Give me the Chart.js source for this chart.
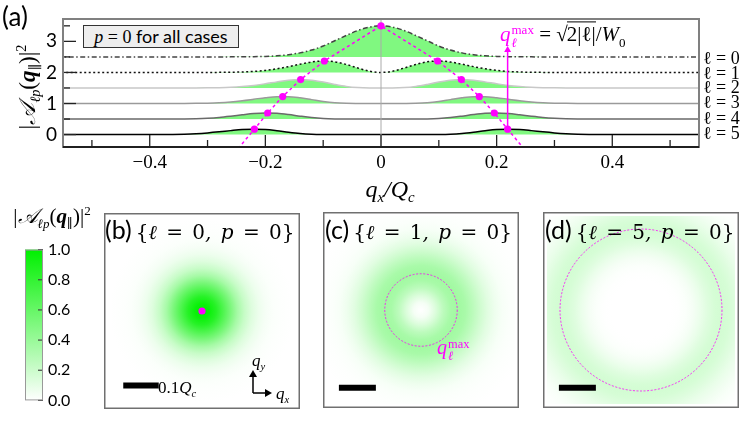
<!DOCTYPE html>
<html>
<head>
<meta charset="utf-8">
<script src="https://cdn.jsdelivr.net/npm/chart.js@4.4.1/dist/chart.umd.min.js"></script>
<style>
  body { margin: 0; background: #fff; }
  #fig { position: relative; width: 747px; height: 421px; overflow: hidden;
         font-family: Lato, "Open Sans", sans-serif; color: #000; }
  canvas { position: absolute; }
  .t { position: absolute; white-space: nowrap; line-height: 1; }
  .m { font-family: "DejaVu Serif", "Liberation Serif", serif; font-style: italic; }
  .r { font-family: "DejaVu Serif", "Liberation Serif", serif; font-style: normal; }
  .lm { font-family: "Liberation Serif", "DejaVu Serif", serif; font-style: italic; }
  .lr { font-family: "Liberation Serif", "DejaVu Serif", serif; font-style: normal; }
  sub, sup { font-size: 62%; line-height: 0; }
  .ss { display: inline-block; vertical-align: -0.45em; line-height: 0.95; font-size: 62%; margin-left: 1px; }
  .ss span { display: block; }
  .mag { color: #ff00ff; }
  .ttl { word-spacing: 3px; }
</style>
</head>
<body>
<div id="fig">
  <canvas id="profiles" width="747" height="205" style="left:0px;top:0px"></canvas>
  <canvas id="cbar" width="90" height="180" style="left:0px;top:235px"></canvas>
  <canvas id="mapB" width="196" height="196" style="left:104px;top:213px"></canvas>
  <canvas id="mapC" width="196" height="196" style="left:323px;top:212px"></canvas>
  <canvas id="mapD" width="196" height="196" style="left:543px;top:212px"></canvas>

  <div class="t" style="left:2px;top:3px;font-size:26px">(a)</div>
  <div class="t lm" style="left:27px;top:87px;font-size:23px;transform:translate(-50%,-50%) rotate(-90deg)"><span class="lr">|</span>𝒜<sub>ℓ<i>p</i></sub><span class="lr">(</span><b>q</b><sub class="lr">∥</sub><span class="lr">)|</span><sup class="lr">2</sup></div>
  <div class="t" style="left:390px;top:188px;font-size:24px;transform:translate(-50%,-50%)"><span class="lm">q<sub>x</sub>/Q<sub>c</sub></span></div>

  <div class="t" style="left:83px;top:25px;width:154px;height:21px;background:#eeeeee;border:1.5px solid #333;font-size:18px;line-height:21px;text-align:center"><span class="lm">p</span><span class="lr"> = 0 </span>for all cases</div>

  <div class="t" style="left:500px;top:36px;font-size:21px;transform:translateY(-50%)"><span class="lm mag">q<span class="ss"><span class="lr">max</span><span>ℓ</span></span></span><span class="lr"> = √<span style="border-top:1px solid #000;padding-top:0px;margin-left:-1px">2|ℓ|</span>/</span><span class="lm">W</span><sub class="lr">0</sub></div>

  <div class="t lr" style="left:703px;top:58px;font-size:18px;transform:translateY(-50%)">ℓ = 0</div>
  <div class="t lr" style="left:703px;top:72.5px;font-size:18px;transform:translateY(-50%)">ℓ = 1</div>
  <div class="t lr" style="left:703px;top:87px;font-size:18px;transform:translateY(-50%)">ℓ = 2</div>
  <div class="t lr" style="left:703px;top:102px;font-size:18px;transform:translateY(-50%)">ℓ = 3</div>
  <div class="t lr" style="left:703px;top:117.5px;font-size:18px;transform:translateY(-50%)">ℓ = 4</div>
  <div class="t lr" style="left:703px;top:133px;font-size:18px;transform:translateY(-50%)">ℓ = 5</div>

  <div class="t lm" style="left:52px;top:216px;font-size:21px;transform:translate(-50%,-50%)"><span class="lr">|</span>𝒜<sub>ℓ<i>p</i></sub><span class="lr">(</span><b>q</b><sub class="lr">∥</sub><span class="lr">)|</span><sup class="lr">2</sup></div>

  <div class="t" style="left:105px;top:229px;transform:translateY(-50%)"><span style="font-size:25px">(b)</span> <span class="m ttl" style="font-size:20px"><span class="r">{</span>ℓ <span class="r">=</span> <span class="r">0</span>, p <span class="r">=</span> <span class="r">0}</span></span></div>
  <div class="t" style="left:325px;top:229px;transform:translateY(-50%)"><span style="font-size:25px">(c)</span> <span class="m ttl" style="font-size:20px"><span class="r">{</span>ℓ <span class="r">=</span> <span class="r">1</span>, p <span class="r">=</span> <span class="r">0}</span></span></div>
  <div class="t" style="left:545px;top:229px;transform:translateY(-50%)"><span style="font-size:25px">(d)</span> <span class="m ttl" style="font-size:20px"><span class="r">{</span>ℓ <span class="r">=</span> <span class="r">5</span>, p <span class="r">=</span> <span class="r">0}</span></span></div>

  <div class="t" style="left:158px;top:387px;font-size:17px;transform:translateY(-50%)"><span class="lr">0.1</span><span class="lm">Q<sub>c</sub></span></div>
  <div class="t lm" style="left:252px;top:360px;font-size:17px;transform:translateY(-50%)">q<sub>y</sub></div>
  <div class="t lm" style="left:276px;top:393px;font-size:17px;transform:translateY(-50%)">q<sub>x</sub></div>
  <div class="t lm mag" style="left:437px;top:350px;font-size:20px;transform:translateY(-50%)">q<span class="ss"><span class="lr">max</span><span>ℓ</span></span></div>
</div>

<script>
// radial momentum grid |q| / Qc (positive half); the profiles are symmetric in q_x
var qHalf = [0, 0.02, 0.04, 0.06, 0.08, 0.10, 0.12, 0.14, 0.16, 0.18, 0.20,
             0.22, 0.24, 0.26, 0.28, 0.30, 0.32, 0.34, 0.36, 0.38, 0.40, 0.56];

// |A_lp|^2, one array per l (p = 0)
var prof0 = [1.00, 0.96, 0.85, 0.69, 0.52, 0.35, 0.22, 0.13, 0.07, 0.035, 0.016,
             0.007, 0.003, 0.001, 0, 0, 0, 0, 0, 0, 0, 0];
var prof1 = [0, 0.040, 0.141, 0.257, 0.342, 0.368, 0.336, 0.266, 0.187, 0.117, 0.066,
             0.033, 0.015, 0.006, 0.002, 0.001, 0, 0, 0, 0, 0, 0];
var prof2 = [0, 0.001, 0.012, 0.048, 0.113, 0.191, 0.250, 0.271, 0.248, 0.196, 0.136,
             0.083, 0.046, 0.022, 0.010, 0.004, 0.001, 0, 0, 0, 0, 0];
var prof3 = [0, 0, 0.001, 0.006, 0.025, 0.066, 0.125, 0.183, 0.219, 0.220, 0.188,
             0.139, 0.091, 0.052, 0.026, 0.012, 0.005, 0.002, 0.001, 0, 0, 0];
var prof4 = [0, 0, 0, 0.001, 0.004, 0.017, 0.047, 0.093, 0.145, 0.184, 0.195,
             0.175, 0.135, 0.091, 0.053, 0.028, 0.013, 0.005, 0.002, 0.001, 0, 0];
var prof5 = [0, 0, 0, 0, 0.001, 0.004, 0.014, 0.038, 0.077, 0.124, 0.162,
             0.175, 0.162, 0.127, 0.087, 0.053, 0.028, 0.013, 0.005, 0.002, 0.001, 0];
var profiles = [prof0, prof1, prof2, prof3, prof4, prof5];

// vertical offset of each curve in panel (a)
var baseOffset = [2.5, 2, 1.5, 1, 0.5, 0];

// q_l^max and the peak value for l = 0..5
var peakQ = [0, 0.098, 0.139, 0.170, 0.196, 0.219];
var peakVal = [1, 0.368, 0.271, 0.224, 0.195, 0.175];

// dashed guide leaves the frame here; arrow tip height
var guideEnd = {q: 0.247, y: -0.45};
var arrowTop = 2.72;

var xMinorTicks = [-0.5, -0.3, -0.1, 0.1, 0.3, 0.5];
var yMinorTicks = [0.5, 1.5, 2.5, 3.5];

// scale bar in the maps: 0.1 Qc
var scaleBar = [-0.222, -0.122];
var scaleBarY = -0.21;

var lineColor = ['#444444', '#111111', '#c8c8c8', '#9a9a9a', '#6a6a6a', '#000000'];
var lineDash = [[5, 2.5, 1.5, 2.5], [2, 2.5], [], [], [], []];
var FILL = 'rgb(128,248,128)';
var MAGENTA = '#ff00ff';

function cmap(v) {
  // white -> green
  var r = Math.round(255 - 255 * v), g = Math.round(255 - 15 * v);
  return 'rgb(' + r + ',' + g + ',' + r + ')';
}

function profilePoints(vals, base) {
  var pts = [];
  for (var i = qHalf.length - 1; i > 0; i--) pts.push({x: -qHalf[i], y: base + vals[i]});
  for (var j = 0; j < qHalf.length; j++) pts.push({x: qHalf[j], y: base + vals[j]});
  return pts;
}

// ---------- panel (a) ----------
var datasets = [];
profiles.forEach(function(vals, l) {
  datasets.push({
    data: profilePoints(vals, baseOffset[l]),
    borderColor: lineColor[l],
    borderDash: lineDash[l],
    borderWidth: 1.5,
    pointRadius: 0,
    cubicInterpolationMode: 'monotone',
    fill: {value: baseOffset[l]},
    backgroundColor: FILL,
    order: 3
  });
});

// thin line at q_x = 0
datasets.push({
  data: [{x: 0, y: -1}, {x: 0, y: 5}],
  borderColor: '#aaaaaa', borderWidth: 1, pointRadius: 0, fill: false, order: 2
});

var guide = [{x: -guideEnd.q, y: guideEnd.y}];
var dots = [];
for (var l = 5; l >= 1; l--) guide.push({x: -peakQ[l], y: baseOffset[l] + peakVal[l]});
guide.push({x: 0, y: baseOffset[0] + peakVal[0]});
for (var k = 1; k <= 5; k++) guide.push({x: peakQ[k], y: baseOffset[k] + peakVal[k]});
guide.push({x: guideEnd.q, y: guideEnd.y});
for (var m = 0; m <= 5; m++) {
  dots.push({x: peakQ[m], y: baseOffset[m] + peakVal[m]});
  if (m > 0) dots.push({x: -peakQ[m], y: baseOffset[m] + peakVal[m]});
}

datasets.push({
  data: guide, borderColor: MAGENTA, borderWidth: 1.5, borderDash: [3, 3],
  pointRadius: 0, fill: false, tension: 0, order: 1
});
datasets.push({
  data: [{x: peakQ[5], y: baseOffset[5] + peakVal[5]}, {x: peakQ[5], y: arrowTop}],
  borderColor: MAGENTA, borderWidth: 1.5, fill: false,
  pointRadius: [0, 4], pointStyle: 'triangle', pointBackgroundColor: MAGENTA, pointBorderWidth: 0,
  order: 1
});
datasets.push({
  data: dots, showLine: false, pointRadius: 3.6, pointBackgroundColor: MAGENTA,
  pointBorderWidth: 0, fill: false, order: 0
});

var frameA = {
  id: 'frameA',
  afterDraw: function(chart) {
    var ctx = chart.ctx, a = chart.chartArea, x = chart.scales.x, y = chart.scales.y;
    ctx.save();
    ctx.strokeStyle = '#222';
    ctx.lineWidth = 1.3;
    function tick(x0, y0, dx, dy) {
      ctx.beginPath(); ctx.moveTo(x0, y0); ctx.lineTo(x0 + dx, y0 + dy); ctx.stroke();
    }
    x.ticks.forEach(function(t) { tick(x.getPixelForValue(t.value), a.bottom, 0, -12); });
    xMinorTicks.forEach(function(v) { tick(x.getPixelForValue(v), a.bottom, 0, -7); });
    y.ticks.forEach(function(t) { tick(a.left, y.getPixelForValue(t.value), 13, 0); });
    yMinorTicks.forEach(function(v) { tick(a.left, y.getPixelForValue(v), 7, 0); });
    ctx.strokeStyle = '#808080';
    ctx.lineWidth = 2;
    ctx.strokeRect(a.left, a.top, a.right - a.left, a.bottom - a.top);
    ctx.strokeStyle = '#000';
    ctx.lineWidth = 1.6;
    ctx.beginPath(); ctx.moveTo(a.left, a.bottom); ctx.lineTo(a.right, a.bottom); ctx.stroke();
    ctx.restore();
  }
};

new Chart(document.getElementById('profiles'), {
  type: 'line',
  data: {datasets: datasets},
  options: {
    responsive: false,
    animation: false,
    events: [],
    layout: {padding: {left: 0, right: 48, top: 19, bottom: 0}},
    plugins: {legend: {display: false}, tooltip: {enabled: false}},
    scales: {
      x: {
        type: 'linear', min: -0.55, max: 0.55,
        afterFit: function(s) { s.height = 58; },
        grid: {display: false, drawTicks: false},
        border: {display: false},
        ticks: {
          stepSize: 0.2, includeBounds: false, padding: 5, color: '#000',
          font: {family: 'Liberation Serif', size: 19},
          callback: function(v) {
            if (Math.abs(v) < 1e-9) return '0';
            return (v < 0 ? '\u2212' : '') + Math.abs(v).toFixed(1);
          }
        }
      },
      y: {
        type: 'linear', min: -0.4, max: 3.72,
        afterFit: function(s) { s.width = 63; },
        grid: {display: false, drawTicks: false},
        border: {display: false},
        ticks: {stepSize: 1, includeBounds: false, padding: 6, color: '#000',
                font: {family: 'Lato', size: 19}}
      }
    }
  },
  plugins: [frameA]
});

// ---------- colour bar ----------
var cbarPlugin = {
  id: 'cbarFill',
  beforeDatasetsDraw: function(chart) {
    var ctx = chart.ctx, a = chart.chartArea, y = chart.scales.y;
    var g = ctx.createLinearGradient(0, y.getPixelForValue(0), 0, y.getPixelForValue(1));
    [0, 0.25, 0.5, 0.75, 1].forEach(function(v) { g.addColorStop(v, cmap(v)); });
    ctx.save();
    ctx.fillStyle = g;
    ctx.fillRect(a.left, a.top, a.right - a.left, a.bottom - a.top);
    ctx.strokeStyle = '#444';
    ctx.lineWidth = 1.2;
    y.ticks.forEach(function(t) {
      var py = y.getPixelForValue(t.value);
      ctx.beginPath(); ctx.moveTo(a.right, py); ctx.lineTo(a.right - 5, py); ctx.stroke();
    });
    ctx.strokeStyle = '#999';
    ctx.lineWidth = 1;
    ctx.strokeRect(a.left + 0.5, a.top + 0.5, a.right - a.left - 1, a.bottom - a.top - 1);
    ctx.restore();
  }
};

new Chart(document.getElementById('cbar'), {
  type: 'scatter',
  data: {datasets: []},
  options: {
    responsive: false, animation: false, events: [],
    layout: {padding: {left: 25, right: 0, top: 10, bottom: 8}},
    plugins: {legend: {display: false}, tooltip: {enabled: false}},
    scales: {
      x: {display: false, min: 0, max: 1},
      y: {
        position: 'right', min: 0, max: 1,
        afterFit: function(s) { s.width = 47; },
        grid: {display: false, drawTicks: false},
        border: {display: false},
        ticks: {stepSize: 0.2, padding: 5, color: '#000', font: {family: 'Lato', size: 16},
                callback: function(v) { return v.toFixed(1); }}
      }
    }
  },
  plugins: [cbarPlugin]
});

// ---------- intensity maps (b), (c), (d) ----------
function radialMap(vals, ringQ, showAxes) {
  return {
    id: 'radialMap',
    beforeDatasetsDraw: function(chart) {
      var ctx = chart.ctx, a = chart.chartArea, x = chart.scales.x, y = chart.scales.y;
      var cx = x.getPixelForValue(0), cy = y.getPixelForValue(0);
      var qEnd = qHalf[qHalf.length - 1];
      var R = x.getPixelForValue(qEnd) - cx;
      var g = ctx.createRadialGradient(cx, cy, 0, cx, cy, R);
      qHalf.forEach(function(q, i) { g.addColorStop(q / qEnd, cmap(vals[i])); });
      ctx.save();
      ctx.fillStyle = g;
      ctx.fillRect(a.left + 4, a.top + 4, a.right - a.left - 8, a.bottom - a.top - 8);
      if (ringQ) {
        ctx.strokeStyle = MAGENTA;
        ctx.globalAlpha = 0.8;
        ctx.lineWidth = 1;
        ctx.setLineDash([2, 1.6]);
        ctx.beginPath();
        ctx.arc(cx, cy, x.getPixelForValue(ringQ) - cx, 0, Math.PI * 2);
        ctx.stroke();
      }
      ctx.restore();
    },
    afterDraw: function(chart) {
      var ctx = chart.ctx, a = chart.chartArea;
      ctx.save();
      if (showAxes) {
        var ox = a.right - 43, oy = a.bottom - 12;
        ctx.strokeStyle = '#000'; ctx.fillStyle = '#000'; ctx.lineWidth = 1.5;
        ctx.beginPath(); ctx.moveTo(ox, oy); ctx.lineTo(ox, oy - 17); ctx.moveTo(ox, oy); ctx.lineTo(ox + 13, oy); ctx.stroke();
        ctx.beginPath(); ctx.moveTo(ox - 4, oy - 16); ctx.lineTo(ox + 4, oy - 16); ctx.lineTo(ox, oy - 23); ctx.fill();
        ctx.beginPath(); ctx.moveTo(ox + 12, oy - 4); ctx.lineTo(ox + 12, oy + 4); ctx.lineTo(ox + 19, oy); ctx.fill();
      }
      ctx.strokeStyle = '#707070';
      ctx.lineWidth = 1.5;
      ctx.strokeRect(0.75, 0.75, chart.width - 1.5, chart.height - 1.5);
      ctx.restore();
    }
  };
}

function mapChart(id, vals, ringQ, centerDot, showAxes) {
  var ds = [{
    data: [{x: scaleBar[0], y: scaleBarY}, {x: scaleBar[1], y: scaleBarY}],
    borderColor: '#000', borderWidth: 6, borderCapStyle: 'butt', pointRadius: 0, showLine: true
  }];
  if (centerDot) {
    ds.push({data: [{x: 0, y: 0}], pointRadius: 3.6, pointBackgroundColor: MAGENTA, pointBorderWidth: 0});
  }
  new Chart(document.getElementById(id), {
    type: 'scatter',
    data: {datasets: ds},
    options: {
      responsive: false, animation: false, events: [],
      layout: {padding: 0},
      plugins: {legend: {display: false}, tooltip: {enabled: false}},
      scales: {
        x: {display: false, min: -0.265, max: 0.265},
        y: {display: false, min: -0.265, max: 0.265}
      }
    },
    plugins: [radialMap(vals, ringQ, showAxes)]
  });
}

mapChart('mapB', prof0, 0, true, true);
mapChart('mapC', prof1, peakQ[1], false, false);
mapChart('mapD', prof5, peakQ[5], false, false);
</script>
</body>
</html>
